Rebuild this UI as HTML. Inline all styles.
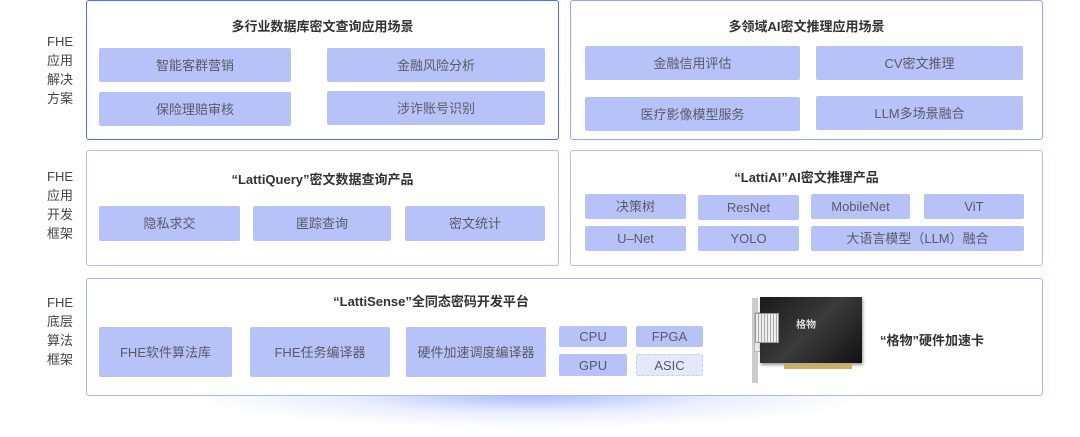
<!DOCTYPE html>
<html><head><meta charset="utf-8"><style>
*{margin:0;padding:0;box-sizing:border-box}
body{width:1080px;height:437px;background:#fff;position:relative;overflow:hidden;font-family:"Liberation Sans","Noto Sans CJK SC",sans-serif;color:#555}
.p{position:absolute;border:1.5px solid #b3c1f6;border-radius:3px;background:#fff}
.t{position:absolute;background:#b7c3f8;border-radius:2px;display:flex;align-items:center;justify-content:center;font-size:13px;line-height:1;padding-bottom:0;color:#5a5a66}
.h{position:absolute;font-size:13px;font-weight:bold;color:#333;text-align:center}
.l{position:absolute;left:40px;width:40px;text-align:center;font-size:13px;line-height:19px;color:#444}
</style></head><body>
<div style="position:absolute;left:180px;top:380px;width:700px;height:57px;background:radial-gradient(ellipse 50% 60% at 50% 25%,rgba(100,130,245,0.55),rgba(150,175,250,0.2) 55%,rgba(255,255,255,0) 100%)"></div>

<div class="l" style="top:32px">FHE<br>应用<br>解决<br>方案</div>
<div class="l" style="top:167px">FHE<br>应用<br>开发<br>框架</div>
<div class="l" style="top:293px">FHE<br>底层<br>算法<br>框架</div>

<div class="p" style="left:86px;top:0;width:473px;height:140px;border-color:#4d6ff5"></div>
<div class="h" style="left:86px;top:16px;width:473px">多行业数据库密文查询应用场景</div>
<div class="t" style="left:99px;top:48px;width:192px;height:34px">智能客群营销</div>
<div class="t" style="left:327px;top:48px;width:218px;height:34px">金融风险分析</div>
<div class="t" style="left:99px;top:92px;width:192px;height:34px">保险理赔审核</div>
<div class="t" style="left:327px;top:91px;width:218px;height:34px">涉诈账号识别</div>

<div class="p" style="left:570px;top:0;width:473px;height:140px;border-color:#94a9f6"></div>
<div class="h" style="left:570px;top:16px;width:473px">多领域AI密文推理应用场景</div>
<div class="t" style="left:585px;top:46px;width:215px;height:34px">金融信用评估</div>
<div class="t" style="left:816px;top:46px;width:207px;height:34px">CV密文推理</div>
<div class="t" style="left:585px;top:97px;width:215px;height:34px">医疗影像模型服务</div>
<div class="t" style="left:816px;top:96px;width:207px;height:34px">LLM多场景融合</div>

<div class="p" style="left:86px;top:150px;width:473px;height:116px"></div>
<div class="h" style="left:86px;top:169px;width:473px">“LattiQuery”密文数据查询产品</div>
<div class="t" style="left:99px;top:206px;width:141px;height:35px">隐私求交</div>
<div class="t" style="left:253px;top:206px;width:138px;height:35px">匿踪查询</div>
<div class="t" style="left:405px;top:206px;width:140px;height:35px">密文统计</div>

<div class="p" style="left:570px;top:150px;width:473px;height:116px"></div>
<div class="h" style="left:570px;top:167px;width:473px">“LattiAI”AI密文推理产品</div>
<div class="t" style="left:585px;top:194px;width:101px;height:25px">决策树</div>
<div class="t" style="left:698px;top:195px;width:101px;height:25px">ResNet</div>
<div class="t" style="left:811px;top:194px;width:99px;height:25px">MobileNet</div>
<div class="t" style="left:924px;top:194px;width:100px;height:25px">ViT</div>
<div class="t" style="left:585px;top:226px;width:101px;height:25px">U–Net</div>
<div class="t" style="left:698px;top:226px;width:101px;height:25px">YOLO</div>
<div class="t" style="left:811px;top:226px;width:213px;height:25px">大语言模型（LLM）融合</div>

<div class="p" style="left:86px;top:278px;width:957px;height:118px;border-color:#a9baf6"></div>
<div class="h" style="left:86px;top:291px;width:690px">“LattiSense”全同态密码开发平台</div>
<div class="t" style="left:99px;top:327px;width:133px;height:50px">FHE软件算法库</div>
<div class="t" style="left:250px;top:327px;width:140px;height:50px">FHE任务编译器</div>
<div class="t" style="left:406px;top:327px;width:140px;height:50px">硬件加速调度编译器</div>
<div class="t" style="left:559px;top:326px;width:68px;height:21px">CPU</div>
<div class="t" style="left:636px;top:326px;width:67px;height:21px">FPGA</div>
<div class="t" style="left:559px;top:354px;width:68px;height:22px">GPU</div>
<div class="t" style="left:636px;top:354px;width:67px;height:22px;background:#e3e8fb;border:1px dashed #c5cff5">ASIC</div>

<div style="position:absolute;left:752px;top:298px;width:6px;height:85px;background:#ccc"></div>
<div style="position:absolute;left:754px;top:312px;width:18px;height:40px;background:#e8e8e8;border:1px solid #bbb"></div>
<div style="position:absolute;left:760px;top:297px;width:102px;height:66px;background:linear-gradient(135deg,#1a1a1a,#3a3a3a 50%,#111);box-shadow:1px 2px 3px rgba(0,0,0,.4)"></div>
<div style="position:absolute;left:755px;top:313px;width:24px;height:30px;background:repeating-linear-gradient(90deg,#eee 0 2px,#aaa 2px 3px);border:1px solid #999"></div>
<div style="position:absolute;left:796px;top:316px;color:#ddd;font-size:10px;font-weight:bold">格物</div>
<div style="position:absolute;left:784px;top:364px;width:68px;height:5px;background:#c9b062"></div>
<div style="position:absolute;left:880px;top:330px;font-size:13px;font-weight:bold;color:#333">“格物”硬件加速卡</div>
</body></html>
